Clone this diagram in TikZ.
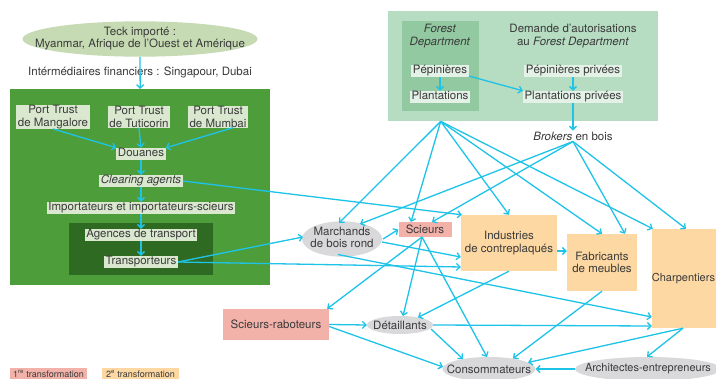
\documentclass[tikz,border=0pt]{standalone}
\usepackage{fontspec}
\setmainfont{TeX Gyre Heros}
\usetikzlibrary{arrows.meta,shapes.geometric}
\definecolor{arrowc}{HTML}{1EC3E8}
\definecolor{bigGreen}{HTML}{4E9D3B}
\definecolor{darkGreen}{HTML}{2F6A22}
\definecolor{lightNode}{HTML}{D9E8CF}
\definecolor{teckFill}{HTML}{C6DBB3}
\definecolor{forestBg}{HTML}{B6DCC2}
\definecolor{forestIn}{HTML}{92C9A1}
\definecolor{forestNode}{HTML}{E3F1E6}
\definecolor{pinkc}{HTML}{F2B2AA}
\definecolor{orangec}{HTML}{FDD8A2}
\definecolor{grayc}{HTML}{D9D9DB}
\definecolor{txt}{HTML}{3A3A3A}
\begin{document}
\begin{tikzpicture}[x=1pt,y=-1pt,
  every node/.style={font=\fontsize{11.5}{12.5}\selectfont, text=txt},
  bg/.style={anchor=north west, inner sep=0pt, draw=none},
  lbl/.style={fill=lightNode, inner xsep=1.5pt, inner ysep=0.5pt, text height=8.5pt, text depth=2.5pt},
  lbltwo/.style={fill=lightNode, inner xsep=1.5pt, inner ysep=0pt, align=center},
  lblf/.style={fill=forestNode, inner xsep=1.5pt, inner ysep=0.5pt, text height=8.5pt, text depth=2.5pt},
  ell/.style={ellipse, fill=grayc, inner sep=0pt},
  firstt/.style={rectangle, fill=pinkc, inner sep=0pt, align=center},
  secondt/.style={rectangle, fill=orangec, inner sep=0pt, align=center},
  arr/.style={draw=arrowc, line width=1.3pt, -{Straight Barb[length=3.5pt,width=7pt]}}
]
\useasboundingbox (0,0) rectangle (716,379);
\fill[white] (0,0) rectangle (716,379);

% backgrounds
\node[bg, fill=bigGreen, minimum width=260pt, minimum height=196pt] (gbox) at (10,89) {};
\node[bg, fill=darkGreen, minimum width=144pt, minimum height=52pt] (dbox) at (69,223) {};
\node[bg, fill=forestBg, minimum width=270pt, minimum height=110pt] (fbox) at (388,11) {};
\node[bg, fill=forestIn, minimum width=77pt, minimum height=90pt] (fdbox) at (402,21) {};

% top left
\node[ell, fill=teckFill, minimum width=235pt, minimum height=31pt] (teck) at (140,39)
  {\makebox[0pt]{\raisebox{3pt}{\begin{tabular}{@{}c@{}}Teck importé :\\Myanmar, Afrique de l’Ouest et Amérique\end{tabular}}}};
\node (interm) at (140,72) {Intérmédiaires financiers : Singapour, Dubai};

% green box content
\node[lbltwo] (pmang) at (53,117) {Port Trust\\de Mangalore};
\node[lbltwo] (ptut) at (139,117) {Port Trust\\de Tuticorin};
\node[lbltwo] (pmum) at (218,117) {Port Trust\\de Mumbai};
\node[lbl] (douanes) at (141,154) {Douanes};
\node[lbl] (clearing) at (141,181) {\textit{Clearing agents}};
\node[lbl] (import) at (141,208) {Importateurs et importateurs-scieurs};
\node[lbl] (agences) at (141,235) {Agences de transport};
\node[lbl] (transp) at (141,262) {Transporteurs};

% forest box content
\node[align=center] (fdtext) at (440,36) {\textit{Forest}\\\textit{Department}};
\node[align=center] (demande) at (573,36) {Demande d’autorisations\\au \textit{Forest Department}};
\node[lblf] (pep) at (440,71) {Pépinières};
\node[lblf] (plant) at (440,97) {Plantations};
\node[lblf] (peppriv) at (573,71) {Pépinières privées};
\node[lblf] (plantpriv) at (573,97) {Plantations privées};
\node[inner sep=1pt] (brokers) at (573,136) {\textit{Brokers} en bois};
\coordinate (fdsrc) at (fdbox.south |- fbox.south);

% middle / bottom
\node[ell, minimum width=80pt, minimum height=32pt] (marchands) at (342,239)
  {\makebox[0pt]{\begin{tabular}{@{}c@{}}Marchands\\de bois rond\end{tabular}}};
\node[firstt, minimum width=53pt, minimum height=15pt] (scieurs) at (425,229.5) {Scieurs};
\node[secondt, minimum width=96pt, minimum height=56pt] (industries) at (509,243) {Industries\\de contreplaqués};
\node[secondt, minimum width=70pt, minimum height=57pt] (fabricants) at (602,262.5) {Fabricants\\de meubles};
\node[secondt, minimum width=68pt, minimum height=99pt] (charp) at (686,278.5)
  {\makebox[0pt]{\hspace{-5pt}\fontsize{11}{12}\selectfont Charpentiers}};
\node[firstt, minimum width=106pt, minimum height=31pt] (scrab) at (276,324.5) {Scieurs-raboteurs};
\node[ell, minimum width=66pt, minimum height=18pt] (detail) at (400,325) {\makebox[0pt]{Détaillants}};
\node[ell, minimum width=93pt, minimum height=24pt] (conso) at (489,369) {\makebox[0pt]{Consommateurs}};
\node[ell, minimum width=146pt, minimum height=24pt] (archi) at (648,369)
  {\makebox[0pt]{\fontsize{11}{12}\selectfont Architectes-entrepreneurs}};

% legend
\node[firstt, minimum width=77pt, minimum height=12pt, font=\fontsize{9}{10}\selectfont] (leg1) at (48.5,374) {1\textsuperscript{re} transformation};
\node[secondt, minimum width=77pt, minimum height=12pt, font=\fontsize{9}{10}\selectfont] (leg2) at (140.5,374) {2\textsuperscript{e} transformation};

% arrows: import chain
\draw[arr] (teck.south) -- (gbox.north);
\draw[arr] (pmang.south) -- (douanes.north west);
\draw[arr] (ptut.south) -- (douanes.north);
\draw[arr] ([xshift=15pt]pmum.south) -- (douanes.north east);
\draw[arr] (douanes.south) -- (clearing.north);
\draw[arr] (clearing.south) -- (import.north);
\draw[arr] (import.south) -- (agences.north);
\draw[arr] (agences.south) -- (transp.north);

% forest
\draw[arr] (pep.south) -- (plant.north);
\draw[arr] ([yshift=-5pt]pep.east) -- (plantpriv.north west);
\draw[arr] (peppriv.south) -- (plantpriv.north);
\draw[arr] (plantpriv.south) -- (brokers.north);

\draw[arr] (fdsrc) -- ([shift={(-3,-16)}]marchands.center);
\draw[arr] (fdsrc) -- ([shift={(-14,-7.5)}]scieurs.center);
\draw[arr] (fdsrc) -- (industries.north);
\draw[arr] (fdsrc) -- (fabricants.north);
\draw[arr] (fdsrc) -- ([xshift=1pt]charp.north west);

\draw[arr] (brokers.south) -- ([shift={(18,-15)}]marchands.center);
\draw[arr] (brokers.south) -- ([shift={(7,-7.5)}]scieurs.center);
\draw[arr] (brokers.south) -- ([xshift=23pt]fabricants.north);
\draw[arr] (brokers.south) -- (charp.north);

% from green box
\draw[arr] (clearing.east) -- ([xshift=1pt]industries.north west);
\draw[arr] (transp.east) -- ([shift={(-39,-2)}]marchands.center);
\draw[arr] (transp.east) -- ([shift={(0,24)}]industries.west);

% marchands
\draw[arr] ([shift={(41,0)}]marchands.center) -- (scieurs.west);
\draw[arr] ([shift={(40,3)}]marchands.center) -- ([shift={(0,14)}]industries.west);
\draw[arr] ([shift={(-4,15.5)}]marchands.center) -- ([shift={(0,38.5)}]charp.west);

% scieurs
\draw[arr] ([shift={(-3,7.5)}]scieurs.center) -- ([xshift=-2pt]scrab.north east);
\draw[arr] ([shift={(-3,7.5)}]scieurs.center) -- ([shift={(3,-9)}]detail.center);
\draw[arr] ([shift={(-3,7.5)}]scieurs.center) -- ([shift={(-2,-12)}]conso.center);

% industries, fabricants
\draw[arr] (industries.south) -- ([shift={(18,-7.5)}]detail.center);
\draw[arr] ([shift={(0,8)}]industries.east) -- ([shift={(0,-11.5)}]fabricants.west);
\draw[arr] (fabricants.south) -- ([shift={(24,-10.5)}]conso.center);

% scieurs-raboteurs, detaillants
\draw[arr] (scrab.east) -- (detail.west);
\draw[arr] ([shift={(0,2)}]scrab.east) -- ([shift={(-46,-2)}]conso.center);
\draw[arr] (detail.east) -- ([shift={(0,47.5)}]charp.west);
\draw[arr] ([shift={(31,4)}]detail.center) -- ([shift={(-26,-10)}]conso.center);

% charpentiers, architectes
\draw[arr] ([xshift=-3pt]charp.south) -- ([shift={(39,-6.5)}]conso.center);
\draw[arr] ([xshift=-3pt]charp.south) -- ([xshift=-1pt]archi.north);
\draw[arr] (archi.west) -- (conso.east);
\end{tikzpicture}
\end{document}
